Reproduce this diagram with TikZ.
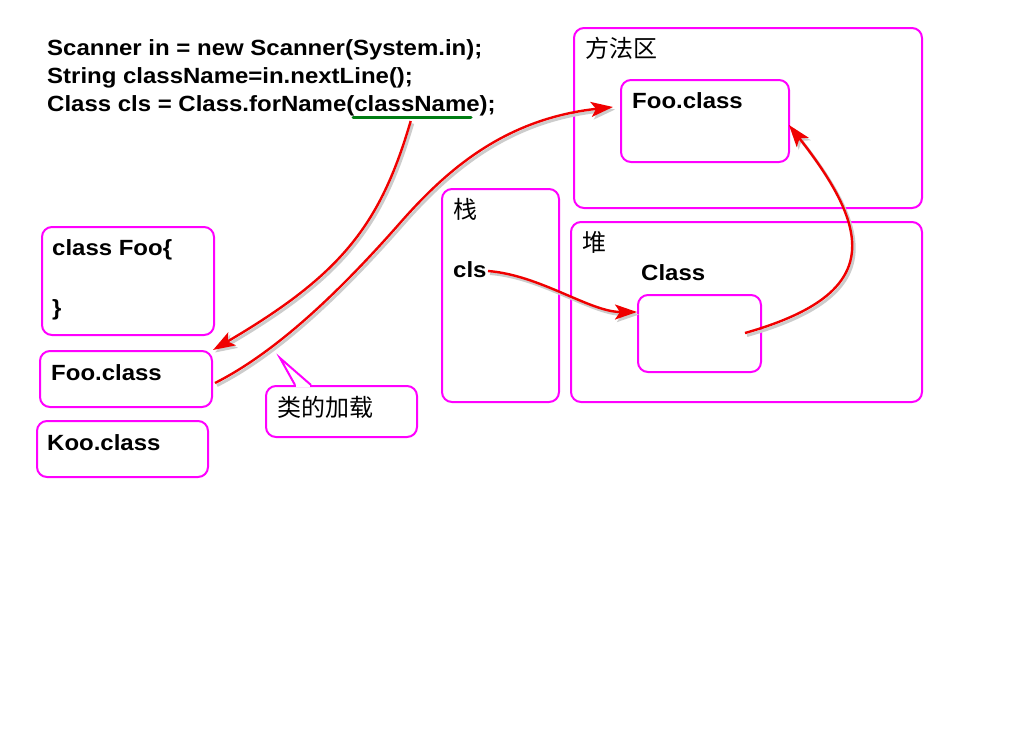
\documentclass[tikz,border=0pt]{standalone}
\usepackage{fontspec}
\setmainfont{Liberation Sans}
\newfontfamily\codef[FakeStretch=1.09]{Liberation Sans}
\newfontfamily\cjk{Noto Sans CJK SC}
\usetikzlibrary{arrows.meta}
\definecolor{boxmag}{RGB}{255,0,255}
\definecolor{arrred}{RGB}{240,0,0}
\definecolor{ulgreen}{RGB}{0,125,20}
\begin{document}
\begin{tikzpicture}[x=1pt,y=-1pt,
  box/.style={draw=boxmag, line width=2pt, rounded corners=10pt, inner sep=0pt, anchor=north west},
  code/.style={anchor=base west, inner sep=0pt, font=\codef\bfseries\fontsize{22}{26}\selectfont},
  cjklabel/.style={anchor=west, inner sep=0pt, font=\cjk\fontsize{24}{28}\selectfont},
  arr/.style={draw=arrred, line width=2.4pt, -{Stealth[length=22pt,width=15pt,inset=5pt]},
    preaction={draw=black!20, line width=3pt, transform canvas={shift={(2pt,-2.5pt)}}}},
  ]
\fill[white] (0,0) rectangle (1024,728);
\useasboundingbox (0,0) rectangle (1024,728);

% code lines
\node[code] (c1) at (47,55) {Scanner in = new Scanner(System.in);};
\node[code] (c2) at (47,83) {String className=in.nextLine();};
\node[code] (c3) at (47,111) {Class cls = Class.forName(className);};
\coordinate (ulA) at (353,117);
\coordinate (ulB) at (471,117);
\draw[ulgreen, line width=3pt, line cap=round] (ulA) -- (ulB);

% method area
\node[box, minimum width=348pt, minimum height=180pt] (ma) at (573,27) {};
\node[cjklabel] (maL) at (585,48) {方法区};
\node[box, minimum width=168pt, minimum height=82pt] (fooM) at (620,79) {};
\node[code] (fooMt) at (632,108) {Foo.class};

% stack
\node[box, minimum width=117pt, minimum height=213pt] (stack) at (441,188) {};
\node[cjklabel] (stackL) at (453,209) {栈};
\node[code] (cls) at (453,277) {cls};

% heap
\node[box, minimum width=351pt, minimum height=180pt] (heap) at (570,221) {};
\node[cjklabel] (heapL) at (582,242) {堆};
\node[code] (classT) at (641,280) {Class};
\node[box, minimum width=123pt, minimum height=77pt] (clsObj) at (637,294) {};

% left side
\node[box, minimum width=172pt, minimum height=108pt] (fooSrc) at (41,226) {};
\node[code] (fooSrc1) at (52,255) {class Foo\{};
\node[code] (fooSrc2) at (52,315) {\}};
\node[box, minimum width=172pt, minimum height=56pt] (fooL) at (39,350) {};
\node[code] (fooLt) at (51,380) {Foo.class};
\node[box, minimum width=171pt, minimum height=56pt] (kooL) at (36,420) {};
\node[code] (kooLt) at (47,450) {Koo.class};

% callout
\node[box, minimum width=151pt, minimum height=51pt] (callbox) at (265,385) {};
\fill[white] (296,383) rectangle (310,387);
\draw[draw=boxmag, line width=2pt, line join=miter] (295,385) -- (280,358) -- (311,385);
\node[cjklabel] (load) at (277,407) {类的加载};

% arrows
\coordinate (a1s) at (410.7,121);
\draw[arr] (a1s) .. controls (380,226) and (340.7,275) .. (fooL.north east);

\coordinate (a2s) at (215,383);
\coordinate (a2m) at (400,223);
\coordinate (a2e) at (613,107);
\draw[arr] (a2s) .. controls (277.3,351.5) and (340.6,290.5) .. (a2m)
  .. controls (446.2,170.5) and (504,119) .. (a2e);

\coordinate (a3s) at (488,271);
\coordinate (a3e) at (637,312);
\draw[arr] (a3s) .. controls (540,275) and (590,312) .. (a3e);

\coordinate (a4s) at (745,333);
\coordinate (a4e) at (789,125);
\draw[arr] (a4s) .. controls (879,295) and (875.8,235.6) .. (a4e);
\end{tikzpicture}
\end{document}
